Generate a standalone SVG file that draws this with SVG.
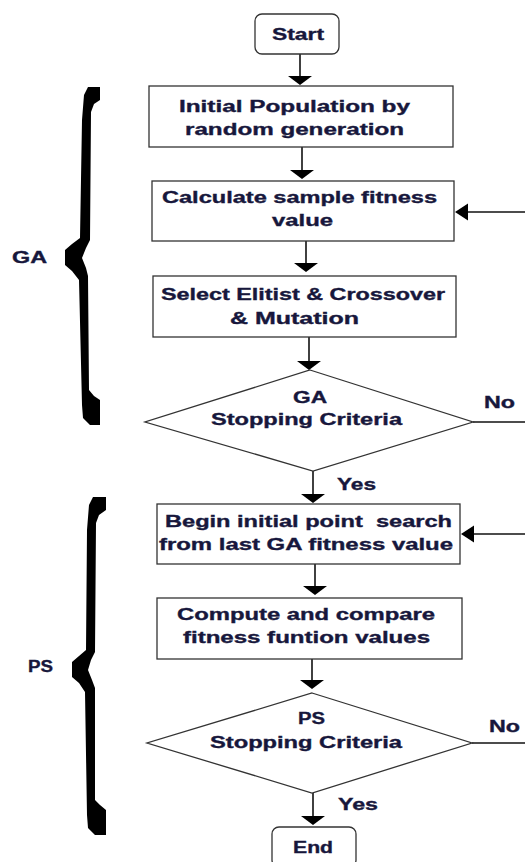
<svg xmlns="http://www.w3.org/2000/svg" xmlns:xlink="http://www.w3.org/1999/xlink" width="525" height="862" viewBox="0 0 525 862">
<style>
.box{fill:#fff;stroke:#333;stroke-width:1.3}
.t{font-family:"Liberation Sans",Arial,sans-serif;font-weight:bold;font-size:16px;fill:#17173c;stroke:#17173c;stroke-width:0.35}
.ln{stroke:#111;stroke-width:1.6;fill:none}
.ah{fill:#000}
.br{fill:#000}
</style>
<defs>
<path id="ad" d="M-12,0 L12,0 L0,9 Z"/>
<path id="al" d="M0,0 L13,-8.5 L13,8.5 Z"/>
</defs>
<rect width="525" height="862" fill="#fff"/>

<g id="brace-ga">
<path class="br" d="M88,87 L100,87 L100,100 L94,104 L91,112 L90,240 L86,248 L82,258 L86,268 L88,276 L89,390 L94,396 L100,400 L100,425 L90,425 L83,418 L82,405 L79,280 L72,271 L65,265 L65,250 L72,244 L80,238 L82,120 L84,95 Z"/>
<text class="t" x="12" y="263" textLength="35" lengthAdjust="spacingAndGlyphs">GA</text>
</g>
<g id="brace-ps">
<path class="br" d="M93,497 L106,497 L106,510 L99,515 L96,523 L95,652 L91,660 L88,670 L92,680 L95,688 L95,800 L100,805 L106,810 L106,835 L95,835 L88,828 L87,815 L85,692 L79,683 L72,677 L72,662 L79,656 L86,650 L87,530 L89,505 Z"/>
<text class="t" x="28" y="672" textLength="25" lengthAdjust="spacingAndGlyphs">PS</text>
</g>

<g id="connectors">
<line class="ln" x1="300" y1="54" x2="300" y2="77"/>
<use href="#ad" class="ah" x="300" y="76"/>
<line class="ln" x1="302" y1="147" x2="302" y2="171"/>
<use href="#ad" class="ah" x="302" y="170"/>
<line class="ln" x1="306" y1="241" x2="306" y2="264"/>
<use href="#ad" class="ah" x="306" y="263"/>
<line class="ln" x1="309" y1="337" x2="309" y2="362"/>
<use href="#ad" class="ah" x="309" y="361"/>
<line class="ln" x1="313" y1="471" x2="313" y2="495"/>
<use href="#ad" class="ah" x="313" y="494"/>
<line class="ln" x1="315" y1="564" x2="315" y2="587"/>
<use href="#ad" class="ah" x="315" y="586"/>
<line class="ln" x1="312" y1="659" x2="312" y2="681"/>
<use href="#ad" class="ah" x="312" y="680"/>
<line class="ln" x1="313" y1="793" x2="313" y2="817"/>
<use href="#ad" class="ah" x="313" y="816"/>
<line class="ln" x1="473" y1="422" x2="525" y2="422"/>
<line class="ln" x1="472" y1="743" x2="525" y2="743"/>
<line class="ln" x1="467" y1="212" x2="525" y2="212"/>
<use href="#al" class="ah" x="455" y="212"/>
<line class="ln" x1="473" y1="534" x2="525" y2="534"/>
<use href="#al" class="ah" x="461" y="534"/>
<text class="t" x="484" y="408" textLength="31" lengthAdjust="spacingAndGlyphs">No</text>
<text class="t" x="337" y="490" textLength="39" lengthAdjust="spacingAndGlyphs">Yes</text>
<text class="t" x="489" y="732" textLength="31" lengthAdjust="spacingAndGlyphs">No</text>
<text class="t" x="338" y="810" textLength="40" lengthAdjust="spacingAndGlyphs">Yes</text>
</g>

<g id="start">
<rect class="box" x="255" y="14" width="84" height="40" rx="7"/>
<text class="t" x="272" y="40" textLength="52" lengthAdjust="spacingAndGlyphs">Start</text>
</g>
<g id="init">
<rect class="box" x="149" y="86" width="304" height="61"/>
<text class="t" x="179" y="112" textLength="231" lengthAdjust="spacingAndGlyphs">Initial Population by</text>
<text class="t" x="185" y="135" textLength="219" lengthAdjust="spacingAndGlyphs">random generation</text>
</g>
<g id="calc">
<rect class="box" x="152" y="181" width="302" height="60"/>
<text class="t" x="162" y="203" textLength="275" lengthAdjust="spacingAndGlyphs">Calculate sample fitness</text>
<text class="t" x="272" y="226" textLength="61" lengthAdjust="spacingAndGlyphs">value</text>
</g>
<g id="select">
<rect class="box" x="153" y="276" width="303" height="61"/>
<text class="t" x="161" y="300" textLength="284" lengthAdjust="spacingAndGlyphs">Select Elitist &amp; Crossover</text>
<text class="t" x="230" y="324" textLength="129" lengthAdjust="spacingAndGlyphs">&amp; Mutation</text>
</g>
<g id="ga-stop">
<polygon class="box" points="310,370 473,422 313,471 145,422"/>
<text class="t" x="293" y="403" textLength="34" lengthAdjust="spacingAndGlyphs">GA</text>
<text class="t" x="211" y="425" textLength="191" lengthAdjust="spacingAndGlyphs">Stopping Criteria</text>
</g>
<g id="begin">
<rect class="box" x="157" y="504" width="303" height="60"/>
<text class="t" x="165" y="527" textLength="287" lengthAdjust="spacingAndGlyphs" style="white-space:pre">Begin initial point  search</text>
<text class="t" x="159" y="550" textLength="294" lengthAdjust="spacingAndGlyphs">from last GA fitness value</text>
</g>
<g id="compute">
<rect class="box" x="157" y="598" width="305" height="61"/>
<text class="t" x="177" y="620" textLength="258" lengthAdjust="spacingAndGlyphs">Compute and compare</text>
<text class="t" x="183" y="643" textLength="247" lengthAdjust="spacingAndGlyphs">fitness funtion values</text>
</g>
<g id="ps-stop">
<polygon class="box" points="312,693 472,743 312,793 147,743"/>
<text class="t" x="298" y="724" textLength="27" lengthAdjust="spacingAndGlyphs">PS</text>
<text class="t" x="210" y="748" textLength="192" lengthAdjust="spacingAndGlyphs">Stopping Criteria</text>
</g>
<g id="end">
<rect class="box" x="272" y="827" width="84" height="40" rx="7"/>
<text class="t" x="293" y="853" textLength="40" lengthAdjust="spacingAndGlyphs">End</text>
</g>
</svg>
